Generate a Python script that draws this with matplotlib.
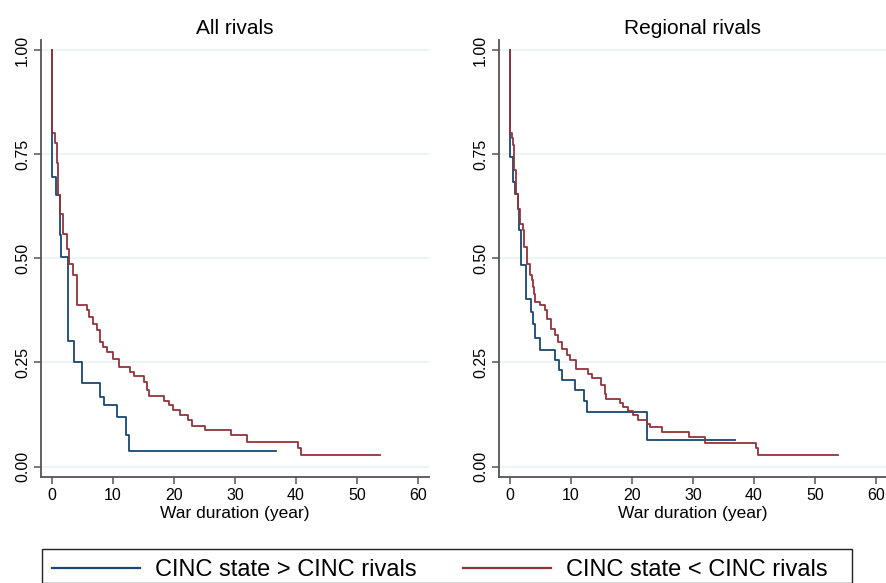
import matplotlib

matplotlib.use("Agg")
import matplotlib.pyplot as plt
from matplotlib.lines import Line2D
from matplotlib.patches import Rectangle

plt.rcParams["font.family"] = ["Liberation Sans", "DejaVu Sans"]

# Kaplan-Meier steps (time in years, survival share)
t_blue_all = [0, 0.02, 0.08, 0.6, 1.36, 1.48, 2.57, 2.65, 3.6, 5.0, 7.9, 8.6, 10.6, 12.2, 12.7, 36.8]
s_blue_all = [1.0, 0.80, 0.695, 0.651, 0.555, 0.503, 0.403, 0.301, 0.25, 0.20, 0.167, 0.147, 0.119, 0.077, 0.037, 0.037]

t_red_all = [0, 0.02, 0.49, 0.77, 1.04, 1.31, 1.86, 2.4, 2.79, 3.5, 4.04, 4.15, 5.68, 6.1, 6.77, 7.3,
             7.87, 8.4, 9.07, 10.05, 10.98, 12.8, 13.4, 15.1, 15.5, 15.9, 18.3, 19.1, 19.9, 21.0,
             22.3, 22.9, 25.1, 29.3, 31.9, 40.4, 40.8, 53.8]
s_red_all = [1.0, 0.80, 0.776, 0.728, 0.651, 0.607, 0.559, 0.523, 0.487, 0.459, 0.415, 0.387, 0.375,
             0.359, 0.343, 0.327, 0.299, 0.287, 0.275, 0.259, 0.240, 0.227, 0.217, 0.203, 0.183, 0.169,
             0.157, 0.147, 0.135, 0.123, 0.111, 0.097, 0.088, 0.075, 0.058, 0.045, 0.029, 0.029]

t_blue_reg = [0, 0.02, 0.08, 0.55, 0.82, 1.36, 1.5, 1.75, 2.62, 3.44, 3.8, 4.1, 4.9, 7.4, 8.0, 8.6,
              10.7, 12.2, 12.7, 22.4, 36.9]
s_blue_reg = [1.0, 0.784, 0.744, 0.683, 0.655, 0.619, 0.567, 0.483, 0.403, 0.371, 0.343, 0.309, 0.280,
              0.255, 0.231, 0.207, 0.183, 0.157, 0.131, 0.064, 0.064]

t_red_reg = [0, 0.02, 0.27, 0.55, 0.71, 0.98, 1.37, 1.64, 2.08, 2.35, 2.73, 3.28, 3.55, 3.83, 4.0, 4.1,
             5.0, 5.7, 6.1, 6.8, 7.4, 7.8, 8.5, 9.3, 9.8, 10.9, 12.8, 13.4, 15.0, 15.6, 15.8, 18.0,
             18.6, 19.4, 20.1, 21.0, 22.4, 23.0, 25.0, 29.3, 32.0, 40.4, 40.7, 53.8]
s_red_reg = [1.0, 0.80, 0.788, 0.772, 0.712, 0.655, 0.619, 0.583, 0.567, 0.527, 0.487, 0.459, 0.447,
             0.431, 0.415, 0.395, 0.387, 0.375, 0.355, 0.331, 0.315, 0.299, 0.283, 0.269, 0.255, 0.235,
             0.223, 0.212, 0.195, 0.175, 0.163, 0.152, 0.143, 0.133, 0.123, 0.112, 0.103, 0.094, 0.084,
             0.072, 0.056, 0.045, 0.029, 0.029]

panels = [
    ("All rivals", t_blue_all, s_blue_all, t_red_all, s_red_all),
    ("Regional rivals", t_blue_reg, s_blue_reg, t_red_reg, s_red_reg),
]
y_ticks = [0, 0.25, 0.5, 0.75, 1.0]
y_labels = ["0.00", "0.25", "0.50", "0.75", "1.00"]
x_ticks = [0, 10, 20, 30, 40, 50, 60]
labels = ["CINC state > CINC rivals", "CINC state < CINC rivals"]

BLUE = "#1a476f"
RED = "#90353b"
AXC = "#555555"
W, H = 887, 583

fig = plt.figure(figsize=(W / 100, H / 100), dpi=100, facecolor="white")
lefts = [41, 499]
for left, (title, tb, sb, tr, sr) in zip(lefts, panels):
    ax = fig.add_axes([left / W, 1 - 477 / H, 388 / W, 437 / H])
    ax.step(tb, sb, where="post", color=BLUE, lw=1.3, zorder=3)
    ax.step(tr, sr, where="post", color=RED, lw=1.3, zorder=3)
    ax.set_xlim(-1.8, 61.8)
    ax.set_ylim(-0.025, 1.024)
    ax.set_yticks(y_ticks)
    ax.set_yticklabels(y_labels, rotation=90, va="center")
    ax.set_xticks(x_ticks)
    ax.grid(axis="y", color="#eaf2f3", lw=1.2, zorder=0)
    ax.set_axisbelow(True)
    for sp in ["top", "right"]:
        ax.spines[sp].set_visible(False)
    for sp in ["left", "bottom"]:
        ax.spines[sp].set_color(AXC)
        ax.spines[sp].set_linewidth(1.3)
    ax.tick_params(direction="out", length=5, width=1.1, color=AXC, labelsize=11.5, pad=3)
    ax.set_title(title, fontsize=15, pad=4)
    ax.set_xlabel("War duration (year)", fontsize=12.5, labelpad=2)

# legend frame runs past the bottom edge, as in the original
fig.patches.append(Rectangle((41.7 / W, 0), 810 / W, 1 - 549 / H, transform=fig.transFigure,
                             fill=False, edgecolor="#222222", lw=1.0))
handles = [Line2D([], [], color=BLUE, lw=1.6), Line2D([], [], color=RED, lw=1.6)]
fig.legend(handles, labels, loc="center left", ncol=2,
           bbox_to_anchor=(51.7 / W, 1 - 570 / H),
           fontsize=17, frameon=False, handlelength=3.73, handletextpad=0.64,
           columnspacing=1.95, borderpad=0, borderaxespad=0)

fig.savefig("out.png", dpi=100, facecolor="white")
